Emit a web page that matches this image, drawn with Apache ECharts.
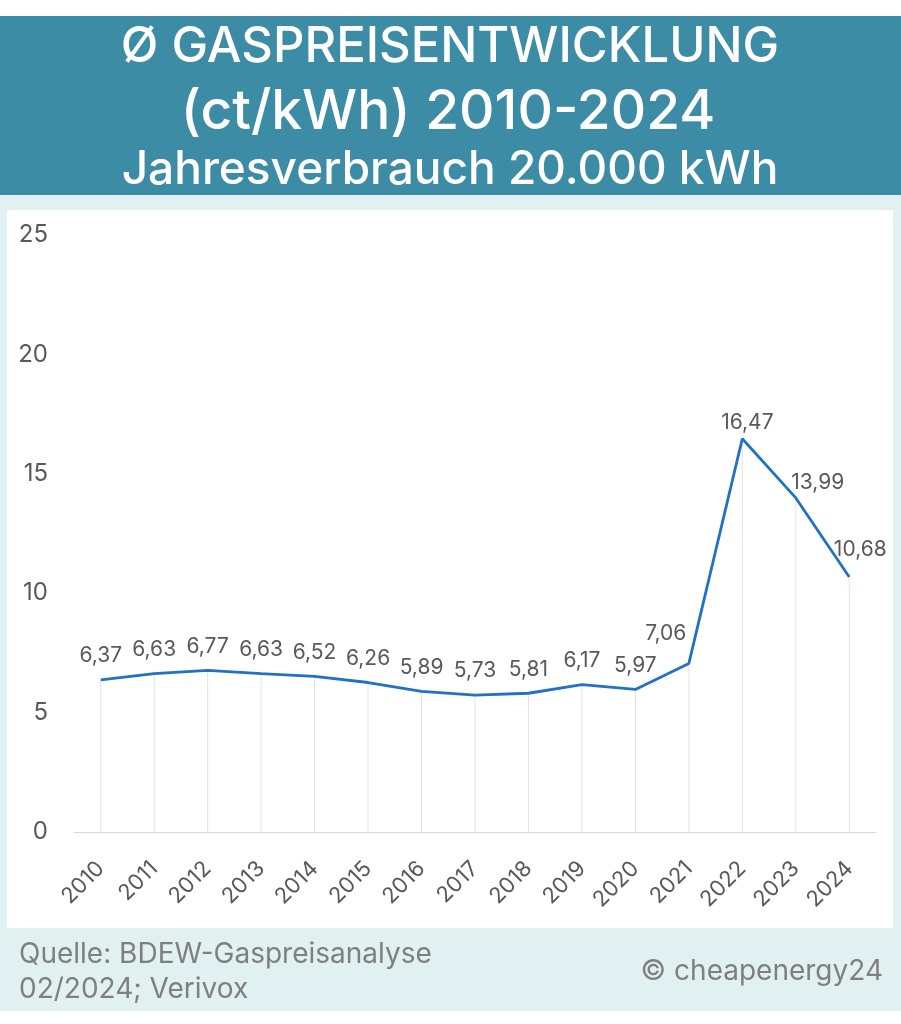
<!DOCTYPE html>
<html><head><meta charset="utf-8">
<script src="https://cdn.jsdelivr.net/npm/echarts@6/dist/echarts.min.js"></script>
<style>html,body{margin:0;padding:0;background:#fff}#c{width:901px;height:1024px}</style>
</head><body><div id="c"></div>
<script>
const years = ['2010','2011','2012','2013','2014','2015','2016','2017','2018','2019','2020','2021','2022','2023','2024'];
const prices = [6.37, 6.63, 6.77, 6.63, 6.52, 6.26, 5.89, 5.73, 5.81, 6.17, 5.97, 7.06, 16.47, 13.99, 10.68];
const yTicks = [0, 5, 10, 15, 20, 25];
const titleLines = ['\u00d8 GASPREISENTWICKLUNG', '(ct/kWh) 2010-2024', 'Jahresverbrauch 20.000 kWh'];
const sourceLines = ['Quelle: BDEW-Gaspreisanalyse', '02/2024; Verivox'];
const copyright = '\u00a9 cheapenergy24';

// label offsets (style only)
const labelOffsets = {11: [-23, -6], 12: [5, 8], 13: [22, 9], 14: [11, -3]};

const FONT = 'Inter, "Noto Sans", sans-serif';
const chart = echarts.init(document.getElementById('c'), null, {renderer: 'canvas'});
const fmt = v => v.toFixed(2).replace('.', ',');

const lineData = prices.map((v, i) => {
  const o = labelOffsets[i];
  return o ? {value: v, label: {offset: o}} : v;
});

chart.setOption({
  animation: false,
  backgroundColor: '#ffffff',
  graphic: [
    {type: 'rect', z: -10, shape: {x: 0, y: 16, width: 901, height: 179}, style: {fill: '#3d8ca5'}},
    {type: 'rect', z: -10, shape: {x: 0, y: 195, width: 901, height: 816}, style: {fill: '#e1f0f0'}},
    {type: 'rect', z: -9, shape: {x: 7, y: 210, width: 886, height: 718}, style: {fill: '#ffffff'}},
    {type: 'text', x: 450, y: 47, style: {text: titleLines[0], fill: '#fff', font: '500 49px ' + FONT, textAlign: 'center', textVerticalAlign: 'middle'}},
    {type: 'text', x: 448, y: 112, style: {text: titleLines[1], fill: '#fff', font: '500 55px ' + FONT, textAlign: 'center', textVerticalAlign: 'middle'}},
    {type: 'text', x: 450, y: 170, style: {text: titleLines[2], fill: '#fff', font: '500 46px ' + FONT, textAlign: 'center', textVerticalAlign: 'middle'}},
    {type: 'text', x: 19, y: 955, style: {text: sourceLines[0], fill: '#7f7f7f', font: '400 28px ' + FONT, textVerticalAlign: 'middle'}},
    {type: 'text', x: 19, y: 990, style: {text: sourceLines[1], fill: '#7f7f7f', font: '400 28px ' + FONT, textVerticalAlign: 'middle'}},
    {type: 'text', x: 883, y: 972, style: {text: copyright, fill: '#7f7f7f', font: '400 28px ' + FONT, textAlign: 'right', textVerticalAlign: 'middle'}}
  ],
  grid: {left: 74, right: 25, top: 235, bottom: 192, containLabel: false},
  xAxis: {
    type: 'category', data: years, boundaryGap: true,
    axisLine: {lineStyle: {color: '#d9d9d9', width: 1}},
    axisTick: {show: false},
    axisLabel: {rotate: 45, color: '#595959', fontSize: 22, fontFamily: FONT, margin: 33, interval: 0},
    splitLine: {show: false}
  },
  yAxis: {
    type: 'value', min: yTicks[0], max: yTicks[yTicks.length - 1], interval: yTicks[1] - yTicks[0],
    axisLine: {show: false}, axisTick: {show: false}, splitLine: {show: false},
    axisLabel: {color: '#595959', fontSize: 24, fontFamily: FONT, margin: 26}
  },
  series: [
    {
      type: 'bar', data: prices, barWidth: 1, z: 1, silent: true,
      itemStyle: {color: '#e3e3e3'}
    },
    {
      type: 'line', data: lineData, z: 3, symbol: 'circle', symbolSize: 1, showSymbol: true,
      itemStyle: {color: 'rgba(0,0,0,0)'},
      lineStyle: {color: '#1f72c6', width: 2.8},
      label: {show: true, position: 'top', distance: 13, color: '#595959', fontSize: 21, fontFamily: FONT,
        formatter: p => fmt(p.value)}
    }
  ]
});
</script></body></html>
